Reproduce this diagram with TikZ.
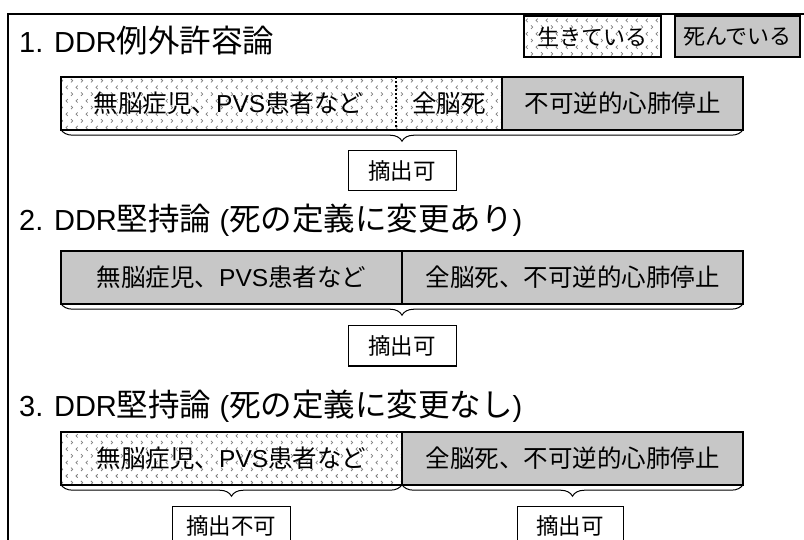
\documentclass[tikz,border=0pt]{standalone}
\usepackage{fontspec}
\setmainfont{Liberation Sans}
\newfontfamily\jp{Noto Sans CJK JP}
\newcommand\J[1]{{\jp #1}}
\newcommand\JT[1]{{\fontsize{31.5}{34}\selectfont\jp #1}}
\usetikzlibrary{patterns,decorations.pathreplacing}
\pgfdeclarepatternformonly{chevrons}{\pgfpoint{-1pt}{-1pt}}{\pgfpoint{11pt}{15pt}}{\pgfpoint{10pt}{13.4pt}}{%
  \pgfsetlinewidth{0.75pt}%
  \pgfpathmoveto{\pgfpoint{1pt}{2pt}}\pgfpathlineto{\pgfpoint{2.7pt}{3.7pt}}\pgfpathlineto{\pgfpoint{1pt}{5.4pt}}%
  \pgfpathmoveto{\pgfpoint{7.7pt}{8.7pt}}\pgfpathlineto{\pgfpoint{6pt}{10.4pt}}\pgfpathlineto{\pgfpoint{7.7pt}{12.1pt}}%
  \pgfusepath{stroke}%
}
\tikzset{
  titletext/.style={anchor=base west, inner sep=0pt, font=\fontsize{29}{33}\selectfont},
  seg/.style={inner sep=0pt, minimum height=53pt, font=\fontsize{24.5}{28}\selectfont},
  alive/.style={pattern=chevrons, pattern color=black!50},
  dead/.style={fill=black!22},
  outline/.style={line width=1.8pt},
  legendbox/.style={draw, line width=1.5pt, inner sep=0pt, minimum height=41pt, font=\fontsize{22}{25}\selectfont},
  verdict/.style={draw, line width=1pt, inner sep=0pt, minimum height=40pt, font=\fontsize{22.5}{25}\selectfont},
  bracket/.style={decorate, decoration={brace, amplitude=12pt}, line width=1pt},
}
\newcommand\patients{\J{無脳症児、}PVS\J{患者など}}
\begin{document}
\begin{tikzpicture}[x=1pt,y=-1pt]
\useasboundingbox (0,0) rectangle (804,540);
\clip (0,0) rectangle (804,540);
\fill[white] (0,0) rectangle (804,540);
\draw[line width=2pt] (8,14) rectangle (840,600);

% legend
\node[legendbox, alive, minimum width=137pt] (live) at (592.5,36.5) {\J{生きている}};
\node[legendbox, dead, minimum width=125pt] (dead) at (737.5,36.5) {\J{死んでいる}};

% row 1
\node[titletext] (t1) at (19,53) {1. DDR\JT{例外許容論}};
\node[seg, alive, minimum width=335pt] (r1a) at (228.5,103.5) {\patients};
\node[seg, alive, minimum width=106pt] (r1b) at (449,103.5) {\J{全脳死}};
\node[seg, dead, minimum width=241pt] (r1c) at (622.5,103.5) {\J{不可逆的心肺停止}};
\draw[line width=1.5pt, dash pattern=on 2pt off 2pt] (r1a.north east) -- (r1a.south east);
\draw[outline] (r1b.north east) -- (r1b.south east);
\draw[outline] (r1a.north west) rectangle (r1c.south east);
\draw[bracket] ([yshift=1pt]r1c.south east) -- ([yshift=1pt]r1a.south west);
\node[verdict, minimum width=108pt] (v1) at (402,171) {\J{摘出可}};

% row 2
\node[titletext] (t2) at (19,231) {2. DDR\JT{堅持論} (\JT{死の定義に変更あり})};
\node[seg, dead, minimum width=341pt] (r2a) at (231.5,277.5) {\patients};
\node[seg, dead, minimum width=341pt] (r2b) at (572.5,277.5) {\J{全脳死、不可逆的心肺停止}};
\draw[outline] (r2a.north east) -- (r2a.south east);
\draw[outline] (r2a.north west) rectangle (r2b.south east);
\draw[bracket] ([yshift=1pt]r2b.south east) -- ([yshift=1pt]r2a.south west);
\node[verdict, minimum width=108pt] (v2) at (402,346) {\J{摘出可}};

% row 3
\node[titletext] (t3) at (19,416) {3. DDR\JT{堅持論} (\JT{死の定義に変更なし})};
\node[seg, alive, minimum width=341pt] (r3a) at (231.5,458.5) {\patients};
\node[seg, dead, minimum width=341pt] (r3b) at (572.5,458.5) {\J{全脳死、不可逆的心肺停止}};
\draw[outline] (r3a.north east) -- (r3a.south east);
\draw[outline] (r3a.north west) rectangle (r3b.south east);
\draw[bracket] ([yshift=1pt]r3a.south east) -- ([yshift=1pt]r3a.south west);
\draw[bracket] ([yshift=1pt]r3b.south east) -- ([yshift=1pt]r3b.south west);
\node[verdict, minimum width=118pt] (v3a) at (231,526) {\J{摘出不可}};
\node[verdict, minimum width=106pt] (v3b) at (570,526) {\J{摘出可}};
\end{tikzpicture}
\end{document}
